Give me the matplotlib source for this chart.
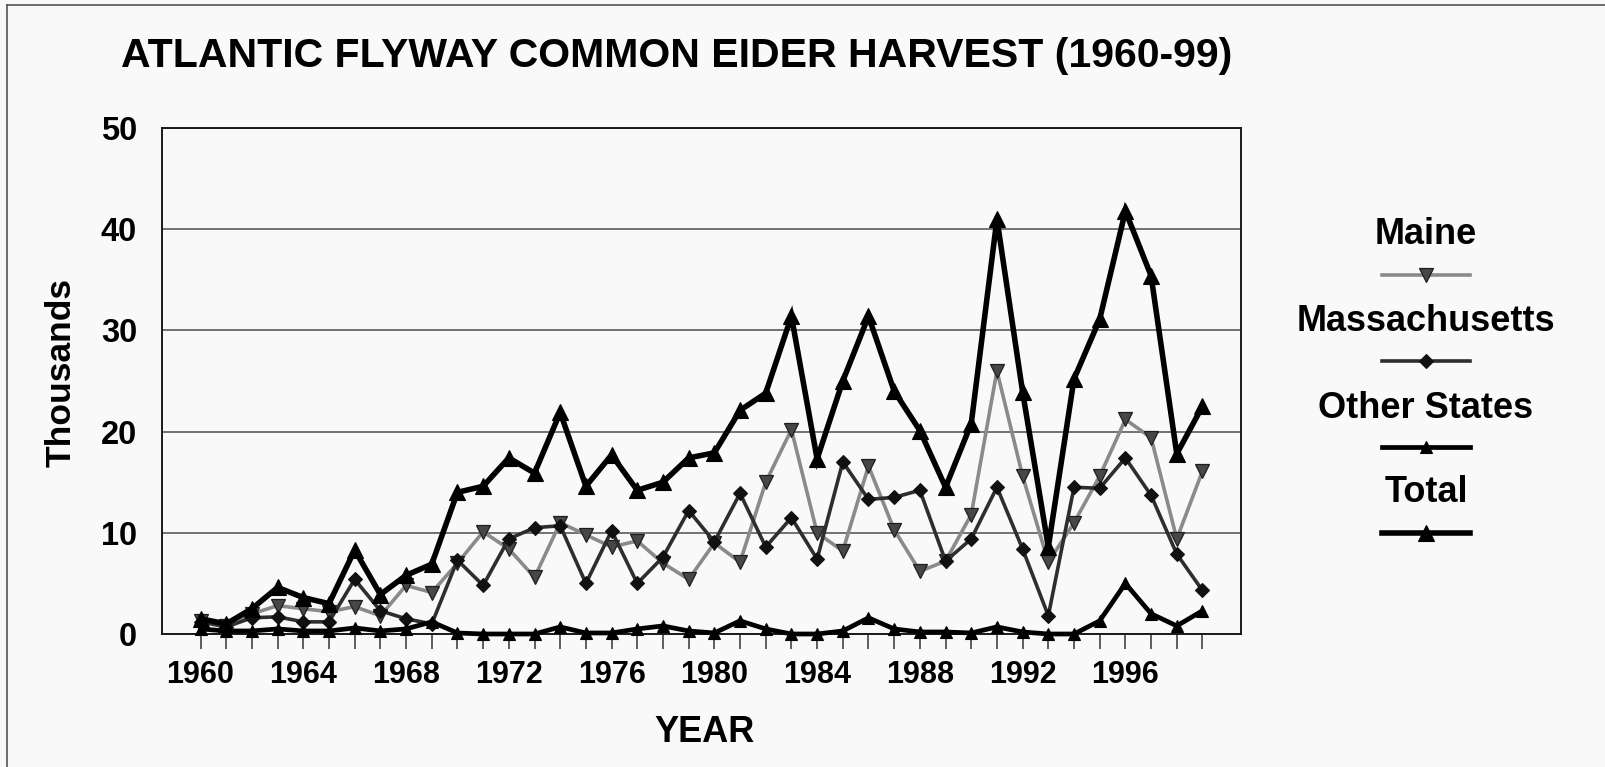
import matplotlib
matplotlib.use("Agg")
import matplotlib.pyplot as plt
from matplotlib.lines import Line2D
import numpy as np

plt.rcParams["font.family"] = ["Liberation Sans", "DejaVu Sans"]
plt.rcParams["font.weight"] = "bold"

# ---------------------------------------------------------------------------
# Data (thousands of birds)
# ---------------------------------------------------------------------------
years = list(range(1960, 2000))

maine = [1.3, 0.8, 2.0, 2.8, 2.5, 2.2, 2.7, 1.8, 4.8, 4.1,
         7.0, 10.1, 8.4, 5.6, 11.0, 9.8, 8.6, 9.2, 7.0, 5.4,
         9.0, 7.1, 15.0, 20.2, 10.0, 8.2, 16.6, 10.3, 6.2, 7.2,
         11.8, 26.0, 15.6, 7.1, 11.0, 15.6, 21.2, 19.4, 9.4, 16.1]

massachusetts = [1.2, 0.7, 1.6, 1.7, 1.2, 1.2, 5.4, 2.3, 1.5, 1.0,
                 7.3, 4.8, 9.4, 10.5, 10.7, 5.0, 10.2, 5.0, 7.6, 12.2,
                 9.1, 13.9, 8.6, 11.5, 7.4, 17.0, 13.3, 13.5, 14.2, 7.2,
                 9.4, 14.5, 8.4, 1.8, 14.5, 14.4, 17.4, 13.7, 7.9, 4.3]

other_states = [0.5, 0.3, 0.3, 0.5, 0.3, 0.3, 0.6, 0.3, 0.5, 1.2,
                0.1, 0.0, 0.0, 0.0, 0.7, 0.1, 0.1, 0.5, 0.8, 0.3,
                0.1, 1.3, 0.5, 0.0, 0.0, 0.3, 1.6, 0.5, 0.2, 0.2,
                0.1, 0.7, 0.2, 0.0, 0.0, 1.3, 5.0, 2.0, 0.8, 2.3]

total = [1.5, 1.0, 2.5, 4.6, 3.6, 3.0, 8.3, 3.9, 5.8, 6.9,
         14.0, 14.6, 17.4, 15.9, 21.9, 14.6, 17.7, 14.2, 15.0, 17.4,
         17.9, 22.1, 23.8, 31.4, 17.3, 25.0, 31.4, 24.0, 20.1, 14.5,
         20.8, 41.0, 23.9, 8.6, 25.2, 31.1, 41.8, 35.4, 17.8, 22.5]

series_names = ["Maine", "Massachusetts", "Other States", "Total"]
series_values = [maine, massachusetts, other_states, total]

label_years = list(range(1960, 1997, 4))

# line / marker styles per series
STYLES = [
    dict(color="#8a8a8a", lw=2.6, marker="v", ms=10, mfc="#474747", mec="#1e1e1e", mew=0.9),
    dict(color="#2e2e2e", lw=2.6, marker="D", ms=7, mfc="#111111", mec="#111111", mew=0.8),
    dict(color="#000000", lw=3.4, marker="^", ms=8.5, mfc="#000000", mec="#000000", mew=0.8),
    dict(color="#000000", lw=4.0, marker="^", ms=11, mfc="#000000", mec="#000000", mew=0.8),
]

BG = "#f9f9f9"

fig = plt.figure(figsize=(16.06, 7.67), dpi=100, facecolor=BG)
ax = fig.add_axes([162 / 1606, 1 - 634 / 767, (1241 - 162) / 1606, (634 - 128) / 767])
ax.set_facecolor(BG)

for vals, st in zip(series_values, STYLES):
    ax.plot(years, vals, solid_joinstyle="miter", clip_on=False, zorder=3, **st)

ax.set_xlim(1958.5, 2000.5)
ax.set_ylim(0, 50)
ax.set_yticks(range(0, 51, 10))
ax.yaxis.grid(True, color="#4d4d4d", linewidth=1.1)
ax.set_axisbelow(True)
ax.tick_params(axis="y", length=0, pad=18, labelsize=23.5)

ax.set_xticks(years)
ax.set_xticklabels([str(y) if y in label_years else "" for y in years])
ax.tick_params(axis="x", direction="out", length=11, width=1.1, color="#333333",
               pad=8, labelsize=22)
for lbl in ax.get_xticklabels() + ax.get_yticklabels():
    lbl.set_fontweight("bold")

for sp in ax.spines.values():
    sp.set_color("#1a1a1a")
    sp.set_linewidth(1.4)

# titles
fig.text(121 / 1606, 1 - 56 / 767, "ATLANTIC FLYWAY COMMON EIDER HARVEST (1960-99)",
         ha="left", va="center", fontsize=29.5, fontweight="bold")
fig.text(61 / 1606, 1 - 372 / 767, "Thousands", rotation=90, ha="center", va="center",
         fontsize=25.5, fontweight="bold")
fig.text(704 / 1606, 1 - 732 / 767, "YEAR", ha="center", va="center",
         fontsize=26, fontweight="bold")

# legend: name above a short line sample, stacked vertically
leg_cx = 1426
text_y = [235, 322, 408, 492]
line_y = [275, 361, 447, 533]
for name, st, ty, ly in zip(series_names, STYLES, text_y, line_y):
    fig.text(leg_cx / 1606, 1 - ty / 767, name, ha="center", va="center",
             fontsize=26, fontweight="bold")
    fig.add_artist(Line2D([(leg_cx - 44) / 1606, (leg_cx + 44) / 1606], [1 - ly / 767] * 2,
                          transform=fig.transFigure, **st, markevery=[]))
    fig.add_artist(Line2D([leg_cx / 1606], [1 - ly / 767], transform=fig.transFigure,
                          linestyle="none", marker=st["marker"], ms=st["ms"],
                          mfc=st["mfc"], mec=st["mec"], mew=st["mew"]))

# outer frame (clipped at right/bottom like the scan)
fig.add_artist(Line2D([7 / 1606, 1.0], [1 - 5 / 767] * 2, transform=fig.transFigure,
                      color="#555555", lw=1.2))
fig.add_artist(Line2D([7 / 1606] * 2, [0.0, 1 - 5 / 767], transform=fig.transFigure,
                      color="#555555", lw=1.2))

fig.savefig("out.png", dpi=100, facecolor=BG)
